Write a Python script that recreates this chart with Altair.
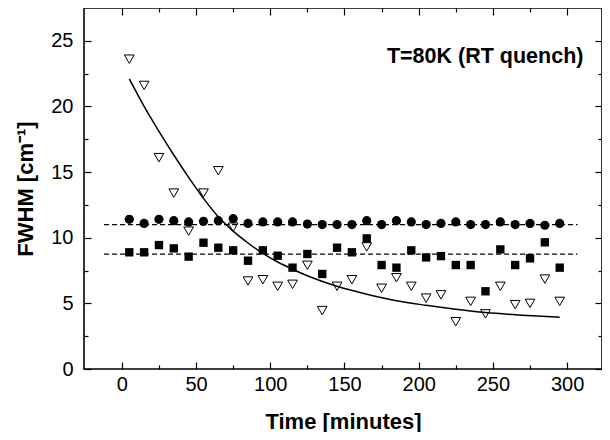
import altair as alt
import pandas as pd

# ---- data ----
times = [5, 15, 25, 35, 45, 55, 65, 75, 85, 95,
         105, 115, 125, 135, 145, 155, 165, 175, 185, 195,
         205, 215, 225, 235, 245, 255, 265, 275, 285, 295]
circles = [11.40, 11.09, 11.40, 11.30, 11.20, 11.25, 11.30, 11.45, 11.09, 11.20,
           11.20, 11.20, 11.04, 11.00, 11.00, 11.00, 11.30, 11.00, 11.30, 11.20,
           11.00, 11.09, 11.20, 11.00, 11.00, 11.20, 11.00, 11.09, 10.95, 11.09]
squares = [8.89, 8.89, 9.44, 9.19, 8.56, 9.62, 9.24, 9.04, 8.25, 9.04,
           8.63, 7.72, 8.76, 7.24, 9.24, 8.89, 9.95, 7.92, 7.72, 9.04,
           8.50, 8.60, 7.92, 7.92, 5.92, 9.11, 7.92, 8.43, 9.65, 7.72]
triangles = [23.6, 21.6, 16.1, 13.4, 10.5, 13.4, 15.1, 10.8, 6.7, 6.8,
             6.3, 6.45, 7.9, 4.45, 6.3, 6.8, 9.3, 6.15, 6.95, 6.3,
             5.4, 5.65, 3.6, 5.15, 4.2, 6.3, 4.9, 5.0, 6.85, 5.15]

fit_t = [5, 15, 25, 35, 45, 55, 65, 75, 85, 95, 105, 115, 125, 145,
         165, 185, 205, 225, 245, 270, 295]
fit_y = [22.1, 20.0, 18.1, 16.3, 14.6, 13.0, 11.6, 10.5, 9.6, 8.8, 8.15, 7.6,
         7.1, 6.3, 5.7, 5.2, 4.85, 4.55, 4.3, 4.1, 3.95]

dash_t = [-12, 307]
circle_level = 11.0
square_level = 8.75

x_major = [0, 50, 100, 150, 200, 250, 300]
x_minor = [25, 75, 125, 175, 225, 275]
y_major = [0, 5, 10, 15, 20, 25]
y_minor = [2.5, 7.5, 12.5, 17.5, 22.5]

label_text = ["T=80K (RT quench)"]
label_t = [311]
label_y = [23.3]

# ---- tables ----
pts = pd.DataFrame({"t": times, "circ": circles, "sq": squares, "tri": triangles})
fit = pd.DataFrame({"t": fit_t, "y": fit_y})
dash = pd.DataFrame({
    "t": dash_t + dash_t,
    "y": [circle_level] * 2 + [square_level] * 2,
    "s": ["c", "c", "s", "s"],
})
lab = pd.DataFrame({"t": label_t, "y": label_y, "text": label_text})

xs = alt.Scale(domain=[-25.5, 323.5], nice=False, zero=False)
ys = alt.Scale(domain=[0, 27.5], nice=False, zero=False)

FONT = "Liberation Sans"

def ax(orient, values, major, labels=False, title=None, lp=0, tp=0):
    size = 7 if major else 4
    kw = dict(orient=orient, values=values, tickSize=size, offset=-size,
              domain=False, grid=False, labels=labels, tickColor="black",
              tickWidth=1.2, title=title)
    if labels:
        kw.update(labelFont=FONT, labelFontSize=20, labelColor="black",
                  labelPadding=lp, titleFont=FONT, titleFontSize=22,
                  titleFontWeight="bold", titleColor="black", titlePadding=tp)
    return alt.Axis(**kw)

base = alt.Chart(pts)

tri = base.mark_point(shape="triangle-down", size=95, filled=False,
                      stroke="black", strokeWidth=1, fill="white", fillOpacity=1).encode(
    x=alt.X("t:Q", scale=xs, axis=ax("top", x_major, True)),
    y=alt.Y("tri:Q", scale=ys, axis=ax("right", y_major, True)),
)

curve = alt.Chart(fit).mark_line(color="black", strokeWidth=1.5, interpolate="monotone").encode(
    x=alt.X("t:Q", scale=xs, axis=ax("top", x_minor, False)),
    y=alt.Y("y:Q", scale=ys, axis=ax("right", y_minor, False)),
)

dashed = alt.Chart(dash).mark_line(color="black", strokeWidth=1.3, strokeDash=[5, 3]).encode(
    x=alt.X("t:Q", scale=xs, axis=None),
    y=alt.Y("y:Q", scale=ys, axis=None),
    detail="s:N",
)

sq = base.mark_point(shape="square", size=70, filled=True, color="black", opacity=1).encode(
    x=alt.X("t:Q", scale=xs, axis=ax("bottom", x_minor, False)),
    y=alt.Y("sq:Q", scale=ys, axis=ax("left", y_minor, False)),
)

circ = base.mark_point(shape="circle", size=85, filled=True, color="black", opacity=1).encode(
    x=alt.X("t:Q", scale=xs, axis=ax("bottom", x_major, True, labels=True,
                                     title="Time [minutes]", lp=5, tp=17)),
    y=alt.Y("circ:Q", scale=ys, axis=ax("left", y_major, True, labels=True,
                                        title="FWHM [cm⁻¹]", lp=11, tp=13)),
)

txt = alt.Chart(lab).mark_text(align="right", baseline="alphabetic", font=FONT,
                               fontSize=21.5, fontWeight="bold", color="black").encode(
    x=alt.X("t:Q", scale=xs, axis=None),
    y=alt.Y("y:Q", scale=ys, axis=None),
    text="text:N",
)

chart = alt.layer(tri, curve, dashed, sq, circ, txt).resolve_axis(
    x="independent", y="independent"
).properties(
    width=518, height=361,
    autosize=alt.AutoSizeParams(type="none"),
    padding={"left": 76, "top": 0, "right": 0, "bottom": 63},
    background="white",
).configure_view(stroke="black", strokeWidth=1.6)

chart.save("out.html", embed_options={"renderer": "svg", "actions": False})
